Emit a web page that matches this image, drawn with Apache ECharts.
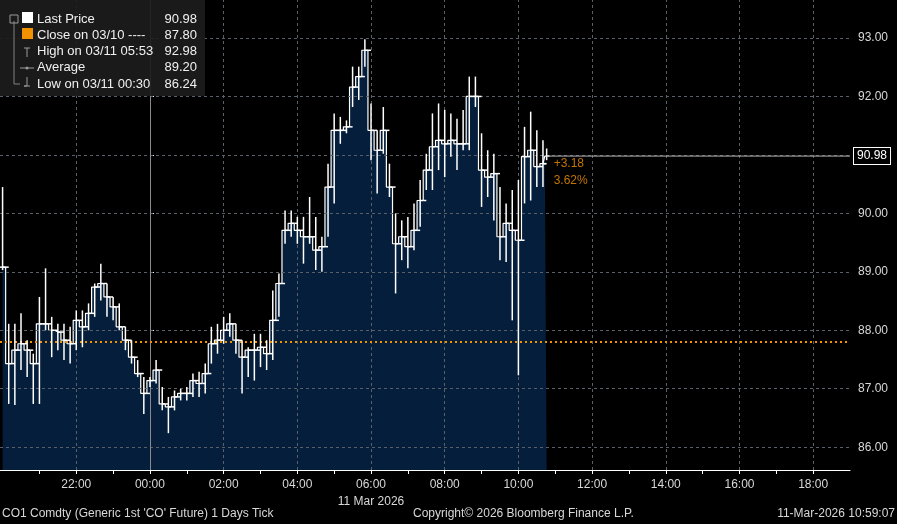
<!DOCTYPE html>
<html><head><meta charset="utf-8">
<script src="https://cdn.jsdelivr.net/npm/echarts@6/dist/echarts.min.js"></script>
<style>html,body{margin:0;padding:0;background:#000;}#c{width:897px;height:524px;}</style>
</head><body><div id="c"></div>
<script>
// Bars every 10 minutes starting 20:00 on 10 Mar, final bar at 10:46 on 11 Mar
const startTime = '20:00';
const stepMinutes = 10;
const lastTime = '10:46';
const highs = [90.45,88.11,88.11,88.29,87.83,87.60,88.57,89.06,88.23,88.11,88.11,88.06,88.34,88.34,88.46,88.80,89.14,88.80,88.57,88.46,88.06,87.83,87.49,87.20,
87.20,87.49,87.03,86.86,86.97,87.00,87.03,87.26,87.29,87.43,88.06,88.11,88.23,88.29,88.11,87.83,87.71,87.94,87.94,87.83,88.68,88.97,90.05,90.05,
89.94,89.94,90.28,89.94,89.60,90.85,91.71,91.65,91.59,92.51,92.51,92.98,91.88,91.42,91.82,90.85,90.00,89.88,89.94,90.17,90.57,91.02,91.71,91.88,
91.77,91.71,91.62,91.77,92.34,92.34,91.37,91.08,91.02,90.45,90.17,90.40,90.57,91.48,91.74,91.42,91.25,91.11];
const lows = [89.03,86.74,86.72,87.32,87.20,86.74,86.74,88.00,87.54,87.66,87.49,87.43,87.66,87.71,88.00,88.23,88.51,88.23,88.17,88.00,87.66,87.43,87.20,86.57,
87.03,87.09,86.63,86.24,86.63,86.80,86.80,86.86,86.86,86.92,87.43,87.60,87.77,87.89,87.60,86.92,87.20,87.14,87.37,87.32,87.49,88.23,89.48,89.60,
89.48,89.14,89.48,89.03,89.00,89.60,90.17,91.19,91.37,91.82,91.94,92.51,90.91,90.34,91.02,90.28,88.63,89.20,89.06,89.37,89.77,90.40,90.40,90.74,
90.62,90.97,90.74,91.08,91.08,91.82,90.11,90.28,89.88,89.20,89.17,88.17,87.23,90.17,90.22,90.45,90.45,90.91];
const closes = [89.08,87.43,87.66,87.77,87.66,87.43,88.11,88.11,88.00,87.97,87.83,87.77,88.17,88.06,88.29,88.74,88.80,88.57,88.40,88.06,87.83,87.54,87.26,86.92,
87.14,87.32,86.74,86.69,86.86,86.92,86.92,87.14,87.09,87.26,87.77,87.83,88.00,88.11,87.83,87.54,87.66,87.66,87.71,87.60,88.17,88.80,89.71,89.83,
89.71,89.60,89.60,89.37,89.43,90.45,91.42,91.42,91.48,92.16,92.34,92.79,91.42,91.08,91.42,90.45,89.48,89.60,89.43,89.71,90.22,90.74,91.14,91.25,
91.19,91.25,91.19,91.19,92.00,92.00,90.74,90.62,90.68,89.60,89.83,89.71,89.54,90.97,91.08,90.80,90.85,90.98];
const prevClose = 87.80;
const lastPrice = 90.98;
const yTicks = [86,87,88,89,90,91,92,93];
const xLabelHours = [-2,0,2,4,6,8,10,12,14,16,18];
const xMinorHours = [-3,-1,1,3,5,7,9,11,13,15,17];
const legendRows = [
  ['Last Price','90.98'],['Close on 03/10 ----','87.80'],['High on 03/11 05:53','92.98'],['Average','89.20'],['Low on 03/11 00:30','86.24']];

function hm(s){const [h,m]=s.split(':').map(Number);let v=h+m/60;return v>=12?v-24:v;} // hours rel. to 11 Mar 00:00
const t0 = hm(startTime);
const times = closes.map((_,i)=> i===closes.length-1 ? hm(lastTime) : t0 + i*stepMinutes/60);
const bars = closes.map((c,i)=>[times[i], i?closes[i-1]:c, highs[i], lows[i], c]);
const lastT = times[times.length-1];

function fmtH(v){let h=((v%24)+24)%24;return (h<10?'0':'')+h+':00';}
const font = '"Liberation Sans", Arial, sans-serif';
const chart = echarts.init(document.getElementById('c'));
chart.setOption({
  backgroundColor:'#000',
  animation:false,
  grid:{left:0,right:47,top:0,bottom:54},
  xAxis:{type:'value',min:-4.07,max:19.0,
    axisLine:{show:true,lineStyle:{color:'#ffffff',width:1}},
    axisTick:{show:true,customValues:xLabelHours.concat(xMinorHours),length:4,lineStyle:{color:'#fff'}},
    axisLabel:{customValues:xLabelHours,color:'#d8d8d8',fontFamily:font,fontSize:12,margin:6,lineHeight:17,
      formatter:v=> v===6 ? fmtH(v)+'\n11 Mar 2026' : fmtH(v)},
    splitLine:{show:false}},
  yAxis:{type:'value',position:'right',min:85.61,max:93.65,
    axisLine:{show:true,lineStyle:{color:'#ffffff'}},
    axisTick:{show:true,customValues:yTicks,length:4,lineStyle:{color:'#fff'}},
    axisLabel:{customValues:yTicks,color:'#d8d8d8',fontFamily:font,fontSize:12,margin:8,formatter:v=>v.toFixed(2)},
    splitLine:{show:false}},
  series:[
    {type:'line',data:times.map((t,i)=>[t,closes[i]]),showSymbol:false,step:'middle',
      lineStyle:{color:'#ffffff',width:1.2},areaStyle:{color:'#041e3b',origin:'start',opacity:1},z:2},
    {type:'line',data:[],z:5,
      markLine:{silent:true,symbol:'none',label:{show:false},animation:false,
        data:[
          ...yTicks.map(v=>({yAxis:v,lineStyle:{color:'#5a6068',type:[3,3],width:1}})),
          ...xLabelHours.map(v=>({xAxis:v,lineStyle:{color:v===0?'#8a8a8a':'#5a6068',type:v===0?'solid':[3,3],width:1}})),
          {yAxis:prevClose,lineStyle:{color:'#f39200',type:[2,3],width:2}}
        ]}},
    {type:'custom',z:6,data:bars,
      renderItem:(p,api)=>{
        const t=api.value(0),o=api.value(1),h=api.value(2),l=api.value(3),c=api.value(4);
        const ph=api.coord([t,h]),pl=api.coord([t,l]),po=api.coord([t,o]),pc=api.coord([t,c]);
        const st={stroke:'#ffffff',lineWidth:1.5};
        return {type:'group',children:[
          {type:'line',shape:{x1:ph[0],y1:ph[1],x2:pl[0],y2:pl[1]},style:st},
          {type:'line',shape:{x1:po[0]-3,y1:po[1],x2:po[0],y2:po[1]},style:st},
          {type:'line',shape:{x1:pc[0],y1:pc[1],x2:pc[0]+3,y2:pc[1]},style:st}]};
      }},
    {type:'line',data:[[lastT,lastPrice],[19.0,lastPrice]],showSymbol:false,z:6,
      lineStyle:{color:'#b0b0b0',width:1},
      endLabel:{show:true,formatter:lastPrice.toFixed(2),color:'#fff',backgroundColor:'#000',borderColor:'#fff',borderWidth:1,
        padding:[2,3],fontFamily:font,fontSize:12,distance:4}},
    {type:'scatter',data:[[lastT,lastPrice]],symbolSize:0,z:7,
      label:{show:true,position:'right',offset:[2,16],color:'#f39200',fontFamily:font,fontSize:12,lineHeight:17,
        formatter:'+'+(lastPrice-prevClose).toFixed(2)+'\n'+((lastPrice-prevClose)/prevClose*100).toFixed(2)+'%'}}
  ],
  graphic:[
    {type:'rect',shape:{x:0,y:0,width:205,height:96},style:{fill:'rgba(28,28,28,0.92)'},z:50},
    {type:'polyline',shape:{points:[[14,21],[14,84],[20,84]]},style:{stroke:'#808080',lineWidth:1,fill:null},z:51},
    {type:'rect',shape:{x:10,y:15,width:8,height:8},style:{fill:'none',stroke:'#9a9a9a'},z:52},
    {type:'rect',shape:{x:22,y:12,width:11,height:11},style:{fill:'#ffffff'},z:52},
    {type:'rect',shape:{x:22,y:28,width:11,height:11},style:{fill:'#f39200'},z:52},
    {type:'polyline',shape:{points:[[24,48],[30,48]]},style:{stroke:'#9a9a9a'},z:52},
    {type:'polyline',shape:{points:[[27,48],[27,57]]},style:{stroke:'#9a9a9a'},z:52},
    {type:'polyline',shape:{points:[[20,68],[34,68]]},style:{stroke:'#9a9a9a'},z:52},
    {type:'circle',shape:{cx:27,cy:68,r:1.5},style:{fill:'#9a9a9a'},z:52},
    {type:'polyline',shape:{points:[[27,77],[27,86],[24,86],[30,86]]},style:{stroke:'#9a9a9a',fill:null},z:52},
    ...legendRows.flatMap((r,i)=>[
      {type:'text',x:37,y:19+i*16.3,style:{text:r[0],fill:'#f0f0f0',font:'13px '+font,textVerticalAlign:'middle'},z:53},
      {type:'text',x:197,y:19+i*16.3,style:{text:r[1],fill:'#f0f0f0',font:'13px '+font,textAlign:'right',textVerticalAlign:'middle'},z:53}]),
    {type:'text',left:2,top:508,style:{text:"CO1 Comdty (Generic 1st 'CO' Future) 1 Days Tick",fill:'#d8d8d8',font:'12px '+font}},
    {type:'text',left:413,top:508,style:{text:'Copyright© 2026 Bloomberg Finance L.P.',fill:'#d8d8d8',font:'12px '+font}},
    {type:'text',right:2,top:508,style:{text:'11-Mar-2026 10:59:07',fill:'#d8d8d8',font:'12px '+font}}
  ]
});
</script></body></html>
